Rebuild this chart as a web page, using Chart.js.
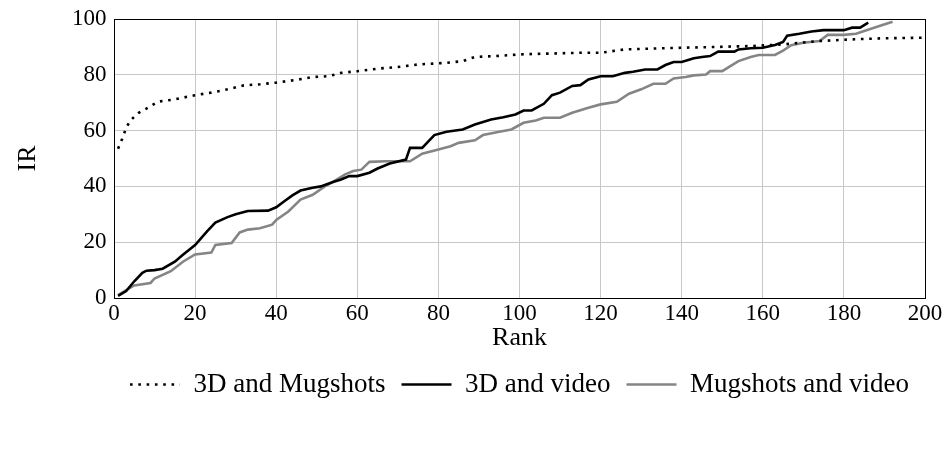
<!DOCTYPE html>
<html>
<head>
<meta charset="utf-8">
<script src="https://cdn.jsdelivr.net/npm/chart.js@4"></script>
<style>
  html, body { margin: 0; padding: 0; background: #fff; }
  #wrap { width: 948px; height: 451px; }
</style>
</head>
<body>
<div id="wrap"><canvas id="myChart"></canvas></div>
<script>
// Datos (Rank -> IR)
const rank3DMug = [1, 2, 3, 4, 5, 6, 8, 10, 11, 15, 20, 24, 28, 32, 36, 40, 45, 49, 53, 56, 60, 65, 70, 75, 82, 86, 89, 94, 100, 107, 115, 120, 126, 133, 140, 149, 157, 165, 174, 182, 190, 200];
const ir3DMug = [53.5, 57, 61, 63.5, 65, 66.3, 67.9, 69.6, 70.4, 71.2, 72.7, 73.6, 74.8, 76.2, 76.6, 77.2, 78.2, 79.2, 79.5, 80.7, 81.3, 82.2, 82.8, 83.7, 84.3, 84.9, 86.4, 86.7, 87.3, 87.6, 87.9, 87.9, 89.1, 89.4, 89.7, 90, 90.3, 90.9, 92.1, 92.7, 93.1, 93.3];

const rank3DVideo = [1, 3, 5, 7, 8, 10, 12, 15, 17, 20, 23, 25, 28, 30, 33, 38, 40, 42, 44, 46, 49, 51, 54, 56, 58, 60, 63, 65, 68, 72, 73, 76, 79, 82, 86, 89, 93, 96, 99, 101, 103, 106, 108, 110, 113, 115, 117, 120, 123, 126, 128, 131, 134, 136, 138, 140, 143, 145, 147, 149, 153, 154, 157, 160, 163, 165, 166, 169, 172, 175, 180, 182, 184, 186];
const ir3DVideo = [0.8, 2.5, 6, 9, 9.8, 10, 10.5, 13, 15.5, 19, 24, 27, 29, 30, 31.2, 31.3, 32.5, 34.7, 36.8, 38.5, 39.5, 40, 41.6, 42.5, 43.7, 43.7, 44.9, 46.4, 48.2, 49.6, 53.8, 53.8, 58.4, 59.6, 60.4, 62.2, 64, 64.8, 65.8, 67.2, 67.2, 69.6, 72.7, 73.6, 76, 76.3, 78.3, 79.5, 79.5, 80.7, 81.1, 81.9, 81.9, 83.5, 84.6, 84.6, 85.9, 86.4, 86.7, 88.3, 88.3, 89.1, 89.5, 89.7, 90.7, 91.8, 94, 94.7, 95.5, 96, 96, 96.9, 96.9, 98.7];

const rankMugVideo = [1, 3, 5, 9, 10, 14, 17, 20, 24, 25, 29, 31, 33, 36, 39, 40, 43, 46, 49, 52, 54, 57, 59, 61, 63, 67, 73, 76, 80, 83, 85, 89, 91, 95, 98, 99, 101, 104, 106, 110, 113, 117, 120, 124, 127, 130, 133, 136, 138, 141, 143, 146, 147, 150, 152, 154, 157, 159, 163, 165, 167, 170, 174, 176, 180, 183, 185, 188, 192];
const irMugVideo = [1, 2.8, 4.5, 5.4, 7, 9.6, 13, 15.6, 16.3, 19, 19.7, 23.5, 24.5, 25, 26.3, 28, 31, 35.3, 37, 40, 41.6, 44.3, 45.5, 46, 48.8, 49, 49, 51.7, 53.2, 54.4, 55.6, 56.5, 58.4, 59.6, 60.4, 61.2, 62.8, 63.6, 64.6, 64.6, 66.4, 68.2, 69.4, 70.3, 73.2, 74.8, 76.8, 76.8, 78.7, 79.2, 79.8, 80.1, 81.3, 81.3, 83.1, 84.9, 86.4, 87.1, 87.1, 88.7, 90.6, 91.5, 92.1, 94.3, 94.3, 94.7, 95.7, 97.1, 99];

const xTicks = [0, 20, 40, 60, 80, 100, 120, 140, 160, 180, 200];
const yTicks = [0, 20, 40, 60, 80, 100];

const fuente = "'Liberation Serif', 'DejaVu Serif', serif";

function aPuntos(xs, ys) {
    return xs.map((x, i) => ({ x: x, y: ys[i] }));
}

// Marco negro alrededor del área de dibujo
const marcoPlugin = {
    id: 'marco',
    afterDraw(chart) {
        const { ctx, chartArea } = chart;
        ctx.save();
        ctx.strokeStyle = '#000';
        ctx.lineWidth = 1;
        ctx.strokeRect(Math.round(chartArea.left) + 0.5, Math.round(chartArea.top) + 0.5,
            Math.round(chartArea.right - chartArea.left), Math.round(chartArea.bottom - chartArea.top));
        ctx.restore();
    }
};

const ctx = document.getElementById('myChart').getContext('2d');
new Chart(ctx, {
    type: 'line',
    data: {
        datasets: [{
            label: '3D and Mugshots',
            data: aPuntos(rank3DMug, ir3DMug),
            borderColor: '#000',
            borderWidth: 2.6,
            borderDash: [2.6, 5.7],
            pointRadius: 0,
            fill: false,
            tension: 0
        }, {
            label: '3D and video',
            data: aPuntos(rank3DVideo, ir3DVideo),
            borderColor: '#000',
            borderWidth: 2.6,
            pointRadius: 0,
            fill: false,
            tension: 0
        }, {
            label: 'Mugshots and video',
            data: aPuntos(rankMugVideo, irMugVideo),
            borderColor: '#858585',
            borderWidth: 2.6,
            pointRadius: 0,
            fill: false,
            tension: 0
        }]
    },
    options: {
        responsive: true,
        maintainAspectRatio: false,
        animation: false,
        layout: { padding: { left: 8, right: 23, top: 7, bottom: 43 } },
        plugins: {
            tooltip: { enabled: false },
            legend: {
                position: 'bottom',
                fullSize: false,
                labels: {
                    usePointStyle: true,
                    pointStyle: 'line',
                    pointStyleWidth: 50,
                    color: '#000',
                    padding: 16,
                    font: { family: fuente, size: 27 },
                    // El estilo de punto no trae el borderDash, lo copiamos del dataset
                    generateLabels: (chart) => {
                        const items = Chart.defaults.plugins.legend.labels.generateLabels(chart);
                        items.forEach((it, i) => {
                            const ds = chart.data.datasets[i];
                            it.lineDash = ds.borderDash || [];
                            it.lineWidth = ds.borderWidth;
                            it.strokeStyle = ds.borderColor;
                        });
                        return items;
                    }
                }
            }
        },
        scales: {
            x: {
                type: 'linear',
                min: 0,
                max: 200,
                afterBuildTicks: (axis) => { axis.ticks = xTicks.map(v => ({ value: v })); },
                ticks: { color: '#000', padding: 4, font: { family: fuente, size: 23, lineHeight: 1 }, maxRotation: 0 },
                grid: { color: '#c8c8c8', lineWidth: 1, drawTicks: false },
                border: { color: '#000' },
                title: { display: true, text: 'Rank', color: '#000', font: { family: fuente, size: 26, lineHeight: 1 }, padding: { top: -4, bottom: 4 } }
            },
            y: {
                min: 0,
                max: 100,
                afterBuildTicks: (axis) => { axis.ticks = yTicks.map(v => ({ value: v })); },
                ticks: { color: '#000', padding: 7.5, font: { family: fuente, size: 23, lineHeight: 1 } },
                grid: { color: '#c8c8c8', lineWidth: 1, drawTicks: false },
                border: { color: '#000' },
                title: { display: true, text: 'IR', color: '#000', font: { family: fuente, size: 26, lineHeight: 1 }, padding: { top: 7, bottom: 23.5 } }
            }
        }
    },
    plugins: [marcoPlugin]
});
</script>
</body>
</html>
